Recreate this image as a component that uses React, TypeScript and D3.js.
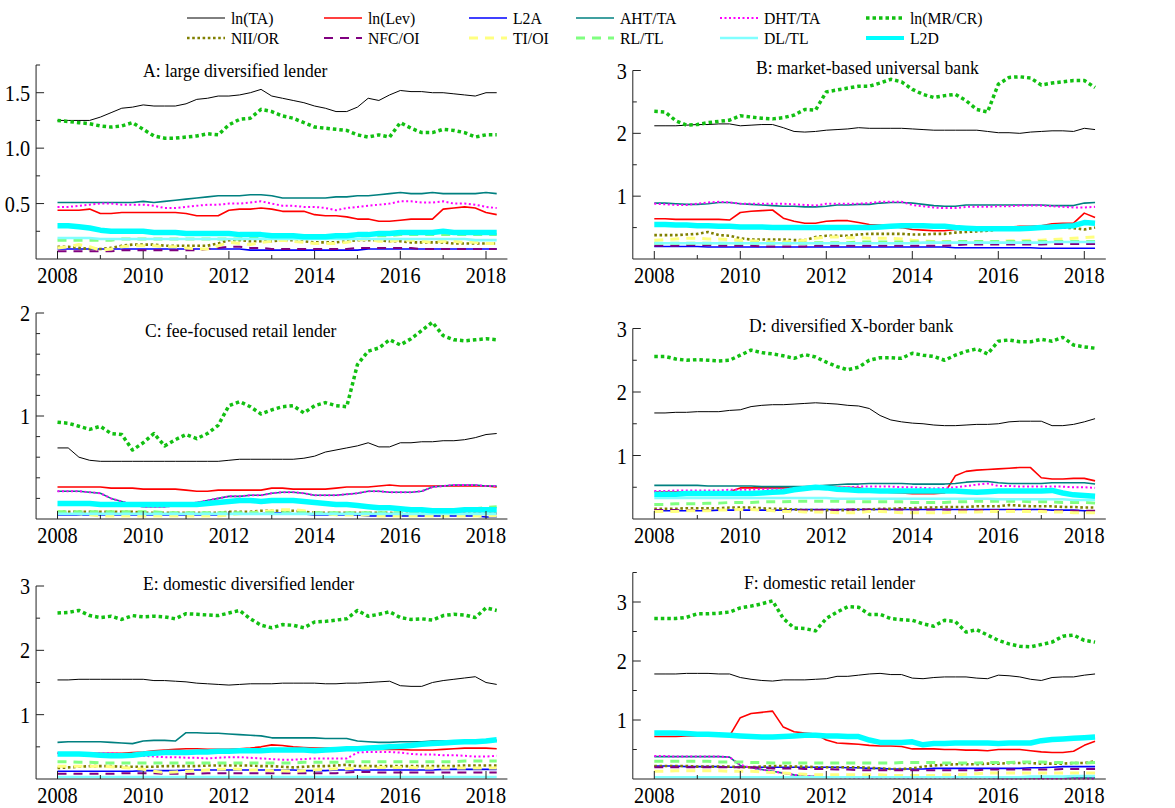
import * as d3 from 'd3';

// quarterly observations, 2008Q1 .. 2018Q2
const quarters = d3.range(42).map(i => 2008 + i * 0.25);

const seriesNames = ['ln(TA)', 'ln(Lev)', 'L2A', 'AHT/TA', 'DHT/TA', 'ln(MR/CR)', 'NII/OR', 'NFC/OI', 'TI/OI', 'RL/TL', 'DL/TL', 'L2D'];

// ---- A: large diversified lender
const A_lnTA = [1.25,1.25,1.25,1.25, 1.28,1.32,1.36,1.37, 1.39,1.38,1.38,1.38, 1.40,1.44,1.45,1.47, 1.47,1.48,1.50,1.53, 1.47,1.45,1.43,1.41, 1.38,1.36,1.33,1.33, 1.37,1.45,1.43,1.48, 1.52,1.51,1.51,1.50, 1.50,1.49,1.48,1.47, 1.50,1.50];
const A_Lev = [0.44,0.44,0.44,0.45, 0.41,0.41,0.42,0.42, 0.42,0.42,0.42,0.42, 0.41,0.39,0.39,0.39, 0.44,0.45,0.45,0.46, 0.45,0.43,0.43,0.43, 0.40,0.39,0.39,0.38, 0.36,0.36,0.34,0.34, 0.35,0.36,0.36,0.36, 0.45,0.46,0.47,0.46, 0.42,0.40];
const A_L2A = [0.09,0.09,0.09,0.09, 0.09,0.09,0.09,0.09, 0.09,0.09,0.09,0.09, 0.09,0.09,0.09,0.09, 0.09,0.09,0.08,0.08, 0.08,0.08,0.08,0.08, 0.08,0.08,0.08,0.08, 0.08,0.09,0.09,0.09, 0.09,0.09,0.09,0.09, 0.09,0.09,0.09,0.09, 0.09,0.09];
const A_AHT = [0.51,0.51,0.51,0.51, 0.51,0.51,0.51,0.51, 0.52,0.51,0.52,0.53, 0.54,0.55,0.56,0.57, 0.57,0.57,0.58,0.58, 0.57,0.55,0.55,0.55, 0.55,0.55,0.56,0.56, 0.57,0.57,0.58,0.59, 0.60,0.59,0.59,0.60, 0.59,0.59,0.59,0.59, 0.60,0.59];
const A_DHT = [0.47,0.47,0.48,0.49, 0.50,0.50,0.49,0.49, 0.49,0.48,0.46,0.46, 0.47,0.48,0.49,0.49, 0.50,0.50,0.51,0.52, 0.50,0.48,0.48,0.47, 0.47,0.46,0.44,0.46, 0.47,0.48,0.49,0.50, 0.52,0.52,0.51,0.51, 0.52,0.50,0.50,0.49, 0.47,0.46];
const A_MR = [1.25,1.24,1.23,1.22, 1.20,1.19,1.20,1.23, 1.17,1.11,1.09,1.09, 1.10,1.11,1.13,1.12, 1.21,1.26,1.27,1.35, 1.33,1.29,1.27,1.23, 1.19,1.18,1.17,1.16, 1.12,1.10,1.12,1.10, 1.23,1.18,1.14,1.14, 1.17,1.16,1.14,1.10, 1.12,1.12];
const A_NII = [0.11,0.11,0.10,0.09, 0.09,0.10,0.12,0.13, 0.13,0.13,0.12,0.12, 0.12,0.12,0.12,0.14, 0.17,0.17,0.16,0.16, 0.16,0.17,0.17,0.16, 0.15,0.15,0.15,0.16, 0.17,0.17,0.17,0.16, 0.16,0.15,0.15,0.15, 0.15,0.14,0.14,0.14, 0.14,0.14];
const A_NFC = [0.07,0.07,0.07,0.07, 0.07,0.07,0.08,0.08, 0.08,0.08,0.08,0.08, 0.08,0.08,0.09,0.10, 0.11,0.11,0.10,0.10, 0.09,0.09,0.09,0.09, 0.09,0.09,0.09,0.09, 0.10,0.10,0.10,0.10, 0.10,0.10,0.09,0.09, 0.09,0.09,0.09,0.09, 0.09,0.09];
const A_TI = [0.10,0.11,0.13,0.11, 0.08,0.09,0.11,0.12, 0.12,0.12,0.11,0.11, 0.10,0.09,0.09,0.12, 0.15,0.14,0.13,0.15, 0.16,0.17,0.16,0.15, 0.14,0.14,0.14,0.15, 0.17,0.18,0.16,0.16, 0.17,0.17,0.16,0.15, 0.16,0.16,0.15,0.15, 0.14,0.14];
const A_RL = [0.17,0.17,0.17,0.17, 0.17,0.17,0.18,0.18, 0.18,0.18,0.18,0.18, 0.18,0.18,0.18,0.18, 0.18,0.18,0.19,0.19, 0.19,0.19,0.19,0.19, 0.19,0.20,0.20,0.20, 0.21,0.21,0.21,0.21, 0.22,0.22,0.22,0.22, 0.22,0.22,0.22,0.22, 0.22,0.22];
const A_DL = [0.19,0.19,0.19,0.19, 0.18,0.18,0.18,0.18, 0.18,0.18,0.18,0.18, 0.18,0.18,0.18,0.18, 0.18,0.18,0.18,0.18, 0.18,0.18,0.18,0.18, 0.18,0.18,0.18,0.18, 0.18,0.18,0.18,0.18, 0.18,0.18,0.18,0.18, 0.18,0.18,0.18,0.17, 0.17,0.17];
const A_L2D = [0.30,0.30,0.29,0.28, 0.26,0.25,0.25,0.25, 0.25,0.24,0.24,0.24, 0.23,0.23,0.23,0.23, 0.23,0.22,0.22,0.22, 0.21,0.21,0.21,0.20, 0.20,0.20,0.21,0.21, 0.22,0.22,0.23,0.23, 0.24,0.24,0.24,0.24, 0.25,0.24,0.24,0.24, 0.24,0.24];

// ---- B: market-based universal bank
const B_lnTA = [2.12,2.12,2.12,2.13, 2.14,2.14,2.15,2.15, 2.12,2.13,2.14,2.14, 2.09,2.03,2.02,2.03, 2.05,2.06,2.07,2.09, 2.08,2.08,2.08,2.08, 2.07,2.06,2.05,2.05, 2.05,2.05,2.05,2.03, 2.01,2.01,2.00,2.02, 2.03,2.04,2.04,2.03, 2.08,2.06];
const B_Lev = [0.64,0.64,0.63,0.63, 0.63,0.63,0.63,0.62, 0.74,0.76,0.77,0.78, 0.65,0.60,0.57,0.57, 0.60,0.61,0.61,0.58, 0.55,0.54,0.52,0.50, 0.47,0.46,0.45,0.45, 0.47,0.48,0.49,0.50, 0.51,0.51,0.52,0.52, 0.53,0.56,0.57,0.57, 0.73,0.66];
const B_L2A = [0.20,0.20,0.20,0.20, 0.20,0.19,0.19,0.19, 0.19,0.19,0.19,0.19, 0.19,0.19,0.19,0.19, 0.19,0.19,0.19,0.19, 0.19,0.19,0.19,0.19, 0.19,0.19,0.19,0.19, 0.18,0.18,0.18,0.18, 0.18,0.18,0.18,0.18, 0.17,0.17,0.17,0.17, 0.17,0.17];
const B_AHT = [0.89,0.89,0.88,0.87, 0.87,0.88,0.90,0.90, 0.88,0.87,0.86,0.85, 0.84,0.84,0.83,0.83, 0.84,0.86,0.86,0.87, 0.87,0.89,0.90,0.90, 0.89,0.87,0.85,0.84, 0.84,0.86,0.86,0.86, 0.86,0.86,0.86,0.86, 0.86,0.85,0.85,0.85, 0.89,0.90];
const B_DHT = [0.88,0.87,0.86,0.86, 0.88,0.90,0.91,0.90, 0.88,0.88,0.88,0.88, 0.88,0.87,0.86,0.85, 0.88,0.88,0.88,0.88, 0.89,0.91,0.91,0.91, 0.86,0.84,0.82,0.81, 0.81,0.83,0.83,0.83, 0.84,0.84,0.85,0.85, 0.85,0.84,0.83,0.82, 0.82,0.83];
const B_MR = [2.35,2.34,2.20,2.13, 2.14,2.17,2.19,2.21, 2.28,2.26,2.24,2.23, 2.25,2.29,2.38,2.37, 2.66,2.69,2.72,2.75, 2.75,2.80,2.86,2.82, 2.70,2.62,2.57,2.60, 2.62,2.52,2.38,2.34, 2.78,2.89,2.90,2.88, 2.77,2.80,2.82,2.84, 2.84,2.73];
const B_NII = [0.38,0.38,0.38,0.39, 0.40,0.43,0.38,0.37, 0.33,0.31,0.31,0.31, 0.31,0.30,0.30,0.35, 0.37,0.37,0.37,0.39, 0.40,0.40,0.40,0.40, 0.39,0.39,0.40,0.40, 0.42,0.43,0.44,0.45, 0.47,0.49,0.50,0.50, 0.50,0.50,0.50,0.49, 0.47,0.50];
const B_NFC = [0.21,0.21,0.21,0.22, 0.22,0.22,0.21,0.21, 0.21,0.21,0.20,0.20, 0.20,0.20,0.20,0.21, 0.21,0.21,0.21,0.21, 0.21,0.21,0.21,0.21, 0.21,0.21,0.21,0.21, 0.22,0.23,0.23,0.23, 0.23,0.23,0.23,0.23, 0.23,0.24,0.24,0.24, 0.24,0.24];
const B_TI = [0.30,0.31,0.32,0.33, 0.33,0.32,0.32,0.31, 0.30,0.29,0.28,0.27, 0.27,0.28,0.30,0.33, 0.35,0.35,0.34,0.34, 0.33,0.33,0.33,0.32, 0.30,0.29,0.28,0.28, 0.27,0.27,0.27,0.27, 0.28,0.29,0.29,0.30, 0.30,0.31,0.32,0.33, 0.34,0.35];
const B_RL = [0.25,0.25,0.25,0.25, 0.25,0.25,0.25,0.25, 0.25,0.25,0.25,0.25, 0.25,0.25,0.25,0.26, 0.26,0.26,0.26,0.27, 0.27,0.27,0.27,0.27, 0.27,0.27,0.27,0.27, 0.28,0.28,0.28,0.28, 0.28,0.28,0.28,0.28, 0.28,0.28,0.28,0.28, 0.28,0.28];
const B_DL = [0.25,0.25,0.25,0.25, 0.25,0.25,0.25,0.25, 0.25,0.25,0.25,0.25, 0.25,0.25,0.25,0.25, 0.25,0.25,0.25,0.25, 0.25,0.25,0.25,0.25, 0.25,0.26,0.26,0.26, 0.26,0.26,0.26,0.26, 0.26,0.26,0.26,0.26, 0.26,0.27,0.27,0.27, 0.27,0.27];
const B_L2D = [0.55,0.55,0.54,0.54, 0.53,0.53,0.52,0.52, 0.51,0.51,0.51,0.50, 0.50,0.50,0.50,0.50, 0.50,0.50,0.50,0.50, 0.50,0.51,0.52,0.53, 0.53,0.53,0.52,0.52, 0.50,0.49,0.48,0.48, 0.48,0.48,0.48,0.49, 0.50,0.51,0.52,0.53, 0.58,0.57];

// ---- C: fee-focused retail lender
const C_lnTA = [0.69,0.69,0.60,0.57, 0.56,0.56,0.56,0.56, 0.56,0.56,0.56,0.56, 0.56,0.56,0.56,0.56, 0.57,0.58,0.58,0.58, 0.58,0.58,0.58,0.59, 0.61,0.65,0.67,0.69, 0.71,0.74,0.70,0.70, 0.74,0.74,0.75,0.75, 0.76,0.76,0.77,0.79, 0.82,0.83];
const C_Lev = [0.31,0.31,0.31,0.31, 0.31,0.30,0.30,0.30, 0.29,0.29,0.29,0.29, 0.28,0.27,0.27,0.28, 0.28,0.28,0.28,0.28, 0.30,0.30,0.29,0.29, 0.29,0.29,0.30,0.31, 0.31,0.31,0.32,0.33, 0.32,0.32,0.32,0.32, 0.32,0.32,0.32,0.32, 0.32,0.31];
const C_L2A = [0.04,0.04,0.04,0.04, 0.04,0.04,0.04,0.04, 0.04,0.04,0.04,0.04, 0.04,0.04,0.04,0.04, 0.05,0.05,0.05,0.05, 0.06,0.06,0.05,0.05, 0.04,0.04,0.04,0.04, 0.04,0.03,0.03,0.03, 0.03,0.03,0.03,0.03, 0.03,0.03,0.03,0.03, 0.02,0.02];
const C_AHT = [0.27,0.27,0.27,0.26, 0.25,0.20,0.17,0.14, 0.12,0.12,0.12,0.13, 0.14,0.16,0.18,0.20, 0.22,0.22,0.23,0.23, 0.25,0.26,0.26,0.25, 0.23,0.23,0.23,0.24, 0.25,0.27,0.27,0.26, 0.26,0.26,0.27,0.31, 0.32,0.33,0.33,0.33, 0.32,0.32];
const C_DHT = [0.27,0.27,0.27,0.26, 0.25,0.20,0.17,0.14, 0.12,0.12,0.12,0.13, 0.14,0.16,0.18,0.20, 0.22,0.22,0.23,0.23, 0.25,0.26,0.26,0.25, 0.23,0.23,0.23,0.24, 0.25,0.27,0.27,0.26, 0.26,0.26,0.27,0.31, 0.32,0.33,0.33,0.33, 0.32,0.32];
const C_MR = [0.94,0.93,0.90,0.87, 0.90,0.83,0.82,0.67, 0.74,0.83,0.71,0.77, 0.82,0.78,0.83,0.91, 1.10,1.14,1.09,1.02, 1.06,1.09,1.10,1.03, 1.10,1.13,1.10,1.09, 1.50,1.63,1.66,1.74, 1.69,1.75,1.83,1.91, 1.78,1.74,1.73,1.74, 1.75,1.74];
const C_NII = [0.07,0.07,0.07,0.07, 0.07,0.07,0.07,0.07, 0.06,0.06,0.06,0.06, 0.06,0.06,0.06,0.06, 0.07,0.07,0.07,0.08, 0.08,0.08,0.08,0.07, 0.06,0.06,0.06,0.06, 0.06,0.06,0.06,0.06, 0.05,0.05,0.05,0.05, 0.05,0.05,0.05,0.05, 0.05,0.05];
const C_NFC = [0.06,0.06,0.06,0.06, 0.06,0.06,0.06,0.06, 0.05,0.05,0.05,0.05, 0.05,0.05,0.05,0.05, 0.05,0.05,0.05,0.05, 0.05,0.05,0.05,0.05, 0.05,0.05,0.05,0.05, 0.05,0.05,0.05,0.05, 0.05,0.05,0.05,0.05, 0.05,0.05,0.05,0.05, 0.05,0.05];
const C_TI = [0.07,0.06,0.05,0.04, 0.03,0.03,0.03,0.03, 0.03,0.03,0.03,0.03, 0.03,0.03,0.03,0.03, 0.04,0.05,0.06,0.07, 0.08,0.09,0.09,0.08, 0.06,0.05,0.04,0.04, 0.04,0.04,0.03,0.03, 0.03,0.03,0.03,0.03, 0.03,0.03,0.03,0.03, 0.03,0.03];
const C_RL = [0.07,0.07,0.07,0.07, 0.07,0.07,0.07,0.07, 0.07,0.07,0.06,0.06, 0.06,0.06,0.06,0.06, 0.06,0.06,0.06,0.06, 0.06,0.06,0.06,0.06, 0.06,0.06,0.06,0.06, 0.06,0.06,0.06,0.06, 0.06,0.06,0.07,0.07, 0.07,0.08,0.09,0.10, 0.11,0.12];
const C_DL = [0.05,0.05,0.05,0.05, 0.05,0.05,0.05,0.05, 0.05,0.05,0.05,0.05, 0.05,0.05,0.05,0.05, 0.05,0.05,0.05,0.05, 0.05,0.05,0.05,0.05, 0.05,0.05,0.05,0.05, 0.05,0.05,0.05,0.05, 0.05,0.05,0.05,0.05, 0.05,0.05,0.05,0.05, 0.05,0.05];
const C_L2D = [0.15,0.15,0.15,0.15, 0.14,0.14,0.14,0.14, 0.14,0.14,0.14,0.14, 0.14,0.14,0.15,0.16, 0.17,0.18,0.18,0.17, 0.18,0.18,0.18,0.17, 0.16,0.15,0.14,0.14, 0.13,0.12,0.11,0.11, 0.10,0.09,0.09,0.08, 0.08,0.08,0.09,0.09, 0.09,0.09];

// ---- D: diversified X-border bank
const D_lnTA = [1.67,1.67,1.68,1.68, 1.69,1.69,1.69,1.71, 1.72,1.77,1.79,1.80, 1.80,1.81,1.82,1.83, 1.82,1.81,1.79,1.78, 1.74,1.63,1.56,1.53, 1.51,1.50,1.48,1.47, 1.47,1.48,1.49,1.49, 1.50,1.53,1.54,1.54, 1.54,1.47,1.47,1.49, 1.53,1.58];
const D_Lev = [0.43,0.43,0.43,0.43, 0.43,0.43,0.43,0.43, 0.49,0.49,0.49,0.49, 0.49,0.50,0.50,0.50, 0.50,0.50,0.50,0.49, 0.46,0.43,0.42,0.41, 0.40,0.40,0.40,0.41, 0.68,0.75,0.77,0.78, 0.79,0.80,0.81,0.81, 0.65,0.63,0.63,0.64, 0.64,0.60];
const D_L2A = [0.13,0.13,0.13,0.13, 0.13,0.13,0.14,0.14, 0.14,0.14,0.14,0.14, 0.14,0.15,0.15,0.15, 0.15,0.15,0.15,0.15, 0.15,0.15,0.15,0.15, 0.15,0.15,0.15,0.15, 0.15,0.15,0.15,0.15, 0.15,0.15,0.15,0.15, 0.15,0.14,0.14,0.14, 0.13,0.13];
const D_AHT = [0.53,0.53,0.53,0.53, 0.53,0.52,0.52,0.52, 0.52,0.52,0.51,0.51, 0.51,0.51,0.51,0.52, 0.53,0.54,0.55,0.55, 0.56,0.56,0.56,0.56, 0.55,0.55,0.55,0.55, 0.56,0.58,0.59,0.59, 0.57,0.56,0.56,0.56, 0.56,0.57,0.57,0.57, 0.57,0.55];
const D_DHT = [0.44,0.44,0.45,0.45, 0.45,0.45,0.45,0.46, 0.46,0.46,0.47,0.47, 0.47,0.48,0.48,0.49, 0.49,0.50,0.50,0.51, 0.51,0.51,0.51,0.50, 0.50,0.49,0.48,0.49, 0.50,0.52,0.54,0.56, 0.52,0.52,0.51,0.51, 0.51,0.51,0.51,0.50, 0.50,0.49];
const D_MR = [2.56,2.56,2.52,2.50, 2.51,2.50,2.49,2.50, 2.58,2.66,2.62,2.60, 2.57,2.53,2.59,2.55, 2.47,2.40,2.35,2.39, 2.50,2.54,2.54,2.53, 2.61,2.58,2.56,2.50, 2.58,2.64,2.68,2.60, 2.80,2.82,2.79,2.79, 2.83,2.80,2.86,2.74, 2.71,2.69];
const D_NII = [0.16,0.16,0.16,0.17, 0.17,0.17,0.17,0.18, 0.18,0.18,0.17,0.16, 0.16,0.15,0.14,0.14, 0.14,0.14,0.14,0.15, 0.15,0.16,0.16,0.17, 0.17,0.18,0.18,0.19, 0.19,0.19,0.20,0.20, 0.20,0.22,0.21,0.20, 0.20,0.20,0.19,0.19, 0.18,0.18];
const D_NFC = [0.14,0.14,0.14,0.14, 0.14,0.14,0.14,0.14, 0.14,0.14,0.14,0.13, 0.13,0.13,0.14,0.14, 0.14,0.14,0.15,0.15, 0.15,0.15,0.15,0.15, 0.15,0.15,0.15,0.15, 0.14,0.14,0.14,0.14, 0.14,0.14,0.14,0.14, 0.14,0.13,0.13,0.13, 0.13,0.13];
const D_TI = [0.12,0.12,0.12,0.13, 0.13,0.13,0.14,0.14, 0.15,0.15,0.14,0.13, 0.12,0.12,0.11,0.11, 0.11,0.10,0.10,0.10, 0.12,0.12,0.11,0.10, 0.10,0.10,0.10,0.10, 0.11,0.11,0.11,0.12, 0.12,0.12,0.12,0.12, 0.12,0.11,0.11,0.10, 0.10,0.10];
const D_RL = [0.23,0.23,0.24,0.24, 0.24,0.25,0.25,0.26, 0.26,0.26,0.27,0.27, 0.27,0.28,0.28,0.28, 0.28,0.28,0.27,0.27, 0.27,0.27,0.27,0.27, 0.26,0.26,0.26,0.26, 0.27,0.27,0.28,0.28, 0.28,0.28,0.28,0.27, 0.27,0.27,0.26,0.26, 0.26,0.25];
const D_DL = [0.33,0.33,0.33,0.33, 0.33,0.33,0.33,0.33, 0.33,0.33,0.33,0.33, 0.33,0.33,0.33,0.33, 0.33,0.32,0.32,0.32, 0.32,0.32,0.32,0.32, 0.32,0.32,0.32,0.32, 0.32,0.32,0.32,0.32, 0.31,0.31,0.31,0.31, 0.31,0.31,0.31,0.30, 0.30,0.30];
const D_L2D = [0.39,0.39,0.39,0.40, 0.40,0.40,0.40,0.40, 0.40,0.40,0.41,0.42, 0.43,0.46,0.48,0.50, 0.49,0.47,0.46,0.45, 0.45,0.44,0.44,0.44, 0.44,0.44,0.44,0.44, 0.44,0.43,0.42,0.43, 0.44,0.44,0.44,0.44, 0.44,0.45,0.41,0.38, 0.37,0.36];

// ---- E: domestic diversified lender
const E_lnTA = [1.54,1.54,1.55,1.55, 1.55,1.55,1.55,1.55, 1.55,1.53,1.53,1.52, 1.51,1.49,1.48,1.47, 1.46,1.47,1.48,1.48, 1.48,1.49,1.49,1.49, 1.49,1.48,1.48,1.49, 1.49,1.50,1.51,1.52, 1.45,1.44,1.44,1.50, 1.53,1.55,1.57,1.59, 1.50,1.47];
const E_Lev = [0.40,0.40,0.40,0.40, 0.40,0.40,0.40,0.41, 0.42,0.44,0.45,0.46, 0.47,0.47,0.46,0.46, 0.46,0.47,0.48,0.50, 0.53,0.52,0.50,0.49, 0.48,0.48,0.48,0.47, 0.46,0.46,0.46,0.46, 0.46,0.45,0.45,0.45, 0.46,0.47,0.48,0.48, 0.48,0.47];
const E_L2A = [0.12,0.12,0.12,0.12, 0.12,0.12,0.12,0.12, 0.13,0.13,0.13,0.13, 0.14,0.14,0.14,0.14, 0.14,0.14,0.14,0.14, 0.14,0.14,0.14,0.13, 0.13,0.13,0.14,0.14, 0.14,0.14,0.14,0.14, 0.14,0.14,0.14,0.14, 0.15,0.15,0.15,0.15, 0.15,0.15];
const E_AHT = [0.57,0.58,0.58,0.58, 0.58,0.57,0.56,0.55, 0.59,0.60,0.60,0.59, 0.72,0.72,0.71,0.71, 0.70,0.69,0.68,0.67, 0.64,0.64,0.64,0.64, 0.64,0.63,0.63,0.63, 0.59,0.58,0.57,0.57, 0.58,0.58,0.58,0.59, 0.59,0.58,0.58,0.59, 0.60,0.60];
const E_DHT = [0.40,0.40,0.40,0.40, 0.40,0.40,0.39,0.38, 0.36,0.35,0.34,0.34, 0.33,0.33,0.32,0.33, 0.34,0.34,0.33,0.32, 0.31,0.30,0.30,0.31, 0.32,0.32,0.32,0.32, 0.41,0.42,0.42,0.42, 0.41,0.39,0.38,0.38, 0.37,0.37,0.36,0.35, 0.35,0.36];
const E_MR = [2.58,2.59,2.62,2.54, 2.51,2.53,2.48,2.54, 2.52,2.53,2.52,2.49, 2.57,2.56,2.55,2.54, 2.58,2.62,2.49,2.39, 2.35,2.40,2.39,2.35, 2.44,2.45,2.47,2.49, 2.62,2.53,2.56,2.60, 2.51,2.48,2.49,2.47, 2.54,2.56,2.55,2.51, 2.66,2.62];
const E_NII = [0.17,0.18,0.19,0.20, 0.20,0.20,0.19,0.19, 0.19,0.19,0.20,0.20, 0.20,0.20,0.21,0.21, 0.21,0.21,0.21,0.20, 0.20,0.19,0.18,0.19, 0.20,0.20,0.21,0.22, 0.20,0.20,0.20,0.20, 0.20,0.20,0.20,0.20, 0.20,0.20,0.21,0.21, 0.21,0.21];
const E_NFC = [0.08,0.08,0.08,0.08, 0.08,0.08,0.09,0.09, 0.09,0.09,0.08,0.08, 0.08,0.08,0.09,0.09, 0.09,0.09,0.09,0.09, 0.09,0.09,0.09,0.09, 0.09,0.09,0.09,0.10, 0.11,0.11,0.10,0.10, 0.10,0.10,0.10,0.10, 0.10,0.10,0.10,0.10, 0.10,0.10];
const E_TI = [0.20,0.20,0.20,0.20, 0.20,0.19,0.18,0.17, 0.15,0.12,0.10,0.11, 0.12,0.13,0.14,0.15, 0.16,0.15,0.14,0.14, 0.13,0.13,0.12,0.13, 0.14,0.15,0.16,0.16, 0.17,0.17,0.18,0.18, 0.18,0.18,0.17,0.17, 0.17,0.17,0.17,0.17, 0.17,0.17];
const E_RL = [0.27,0.27,0.26,0.26, 0.25,0.25,0.25,0.25, 0.25,0.25,0.25,0.25, 0.25,0.25,0.25,0.25, 0.25,0.25,0.25,0.25, 0.25,0.25,0.25,0.26, 0.26,0.26,0.26,0.27, 0.27,0.27,0.27,0.27, 0.27,0.27,0.27,0.27, 0.27,0.27,0.28,0.28, 0.28,0.28];
const E_DL = [0.03,0.03,0.03,0.03, 0.03,0.03,0.03,0.03, 0.03,0.03,0.03,0.03, 0.03,0.03,0.03,0.03, 0.03,0.03,0.03,0.03, 0.03,0.03,0.03,0.03, 0.03,0.03,0.03,0.03, 0.03,0.03,0.03,0.03, 0.03,0.03,0.03,0.03, 0.03,0.03,0.03,0.03, 0.03,0.03];
const E_L2D = [0.39,0.39,0.39,0.38, 0.37,0.36,0.36,0.37, 0.39,0.40,0.41,0.41, 0.41,0.42,0.42,0.43, 0.43,0.44,0.44,0.44, 0.45,0.45,0.45,0.45, 0.44,0.45,0.46,0.47, 0.47,0.48,0.49,0.50, 0.51,0.52,0.54,0.55, 0.56,0.57,0.58,0.58, 0.59,0.61];

// ---- F: domestic retail lender
const F_lnTA = [1.78,1.78,1.78,1.79, 1.79,1.79,1.78,1.78, 1.72,1.69,1.67,1.66, 1.68,1.68,1.68,1.69, 1.70,1.74,1.74,1.76, 1.78,1.79,1.77,1.77, 1.71,1.70,1.72,1.73, 1.73,1.73,1.71,1.70, 1.76,1.75,1.73,1.69, 1.67,1.72,1.73,1.73, 1.76,1.78];
const F_Lev = [0.72,0.72,0.72,0.73, 0.73,0.73,0.73,0.73, 1.04,1.11,1.13,1.15, 0.88,0.80,0.78,0.76, 0.66,0.61,0.60,0.59, 0.57,0.56,0.56,0.55, 0.51,0.51,0.51,0.50, 0.50,0.49,0.49,0.48, 0.50,0.50,0.50,0.48, 0.46,0.45,0.45,0.47, 0.57,0.64];
const F_L2A = [0.22,0.22,0.22,0.21, 0.21,0.21,0.21,0.20, 0.20,0.20,0.20,0.20, 0.20,0.20,0.20,0.20, 0.20,0.20,0.19,0.19, 0.18,0.18,0.17,0.17, 0.17,0.17,0.18,0.18, 0.18,0.18,0.18,0.18, 0.18,0.18,0.18,0.19, 0.19,0.20,0.21,0.21, 0.21,0.21];
const F_AHT = [0.38,0.38,0.38,0.38, 0.38,0.38,0.38,0.37, 0.23,0.19,0.16,0.13, 0.10,0.07,0.05,0.04, 0.03,0.03,0.03,0.03, 0.03,0.03,0.03,0.03, 0.03,0.03,0.03,0.03, 0.03,0.03,0.03,0.03, 0.02,0.02,0.02,0.02, 0.02,0.02,0.02,0.02, 0.02,0.02];
const F_DHT = [0.39,0.39,0.38,0.38, 0.38,0.38,0.38,0.37, 0.24,0.19,0.16,0.13, 0.10,0.07,0.05,0.04, 0.03,0.03,0.02,0.02, 0.02,0.02,0.02,0.02, 0.02,0.02,0.02,0.02, 0.02,0.02,0.02,0.02, 0.01,0.01,0.01,0.01, 0.01,0.01,0.01,0.01, 0.01,0.01];
const F_MR = [2.72,2.72,2.72,2.74, 2.80,2.80,2.81,2.83, 2.90,2.93,2.97,3.02, 2.72,2.56,2.55,2.51, 2.72,2.83,2.92,2.91, 2.79,2.79,2.72,2.70, 2.69,2.63,2.59,2.69, 2.67,2.49,2.53,2.44, 2.35,2.29,2.25,2.24, 2.28,2.32,2.42,2.44, 2.35,2.32];
const F_NII = [0.22,0.22,0.22,0.22, 0.21,0.21,0.21,0.21, 0.20,0.20,0.21,0.22, 0.22,0.21,0.21,0.20, 0.20,0.20,0.20,0.20, 0.19,0.18,0.17,0.17, 0.18,0.21,0.23,0.24, 0.25,0.25,0.25,0.26, 0.26,0.27,0.27,0.27, 0.26,0.26,0.26,0.27, 0.27,0.30];
const F_NFC = [0.20,0.20,0.20,0.20, 0.20,0.20,0.20,0.20, 0.20,0.20,0.19,0.18, 0.18,0.18,0.17,0.17, 0.17,0.16,0.16,0.15, 0.15,0.15,0.15,0.15, 0.15,0.15,0.15,0.15, 0.15,0.15,0.15,0.16, 0.16,0.16,0.16,0.16, 0.16,0.16,0.17,0.17, 0.17,0.17];
const F_TI = [0.13,0.13,0.14,0.14, 0.14,0.14,0.14,0.13, 0.13,0.13,0.12,0.11, 0.10,0.09,0.08,0.07, 0.07,0.07,0.07,0.07, 0.07,0.07,0.06,0.06, 0.06,0.06,0.06,0.07, 0.07,0.08,0.09,0.10, 0.10,0.10,0.10,0.10, 0.10,0.10,0.10,0.10, 0.10,0.10];
const F_RL = [0.30,0.30,0.30,0.30, 0.30,0.30,0.29,0.29, 0.29,0.28,0.28,0.27, 0.27,0.27,0.27,0.27, 0.27,0.27,0.27,0.27, 0.27,0.27,0.27,0.28, 0.28,0.28,0.28,0.27, 0.27,0.27,0.27,0.28, 0.28,0.28,0.29,0.29, 0.29,0.28,0.28,0.27, 0.27,0.28];
const F_DL = [0.03,0.03,0.03,0.03, 0.03,0.03,0.03,0.03, 0.03,0.03,0.03,0.03, 0.03,0.03,0.03,0.03, 0.03,0.03,0.03,0.03, 0.03,0.03,0.03,0.03, 0.03,0.03,0.03,0.03, 0.03,0.03,0.03,0.03, 0.03,0.03,0.03,0.04, 0.04,0.04,0.04,0.05, 0.05,0.05];
const F_L2D = [0.78,0.78,0.78,0.77, 0.76,0.76,0.75,0.74, 0.73,0.72,0.71,0.71, 0.72,0.73,0.74,0.74, 0.73,0.73,0.72,0.72, 0.66,0.62,0.62,0.62, 0.63,0.58,0.60,0.60, 0.61,0.61,0.61,0.61, 0.60,0.61,0.61,0.61, 0.65,0.67,0.68,0.69, 0.70,0.71];

const panelTitles = ['A: large diversified lender', 'B: market-based universal bank', 'C: fee-focused retail lender', 'D: diversified X-border bank', 'E: domestic diversified lender', 'F: domestic retail lender'];

const panelSeries = [
  [A_lnTA, A_Lev, A_L2A, A_AHT, A_DHT, A_MR, A_NII, A_NFC, A_TI, A_RL, A_DL, A_L2D],
  [B_lnTA, B_Lev, B_L2A, B_AHT, B_DHT, B_MR, B_NII, B_NFC, B_TI, B_RL, B_DL, B_L2D],
  [C_lnTA, C_Lev, C_L2A, C_AHT, C_DHT, C_MR, C_NII, C_NFC, C_TI, C_RL, C_DL, C_L2D],
  [D_lnTA, D_Lev, D_L2A, D_AHT, D_DHT, D_MR, D_NII, D_NFC, D_TI, D_RL, D_DL, D_L2D],
  [E_lnTA, E_Lev, E_L2A, E_AHT, E_DHT, E_MR, E_NII, E_NFC, E_TI, E_RL, E_DL, E_L2D],
  [F_lnTA, F_Lev, F_L2A, F_AHT, F_DHT, F_MR, F_NII, F_NFC, F_TI, F_RL, F_DL, F_L2D],
];

const yearTicks = [2008, 2010, 2012, 2014, 2016, 2018];

// line styles, same order as seriesNames
const styles = [
  { color: '#000000', width: 1, dash: '' },
  { color: '#ff0000', width: 1.6, dash: '' },
  { color: '#0000ff', width: 1.6, dash: '' },
  { color: '#008080', width: 1.6, dash: '' },
  { color: '#ff00ff', width: 2, dash: '2,2.5' },
  { color: '#12c012', width: 3.5, dash: '3.5,3' },
  { color: '#808000', width: 2.6, dash: '2.6,2.6' },
  { color: '#800080', width: 2, dash: '9,7' },
  { color: '#ffff80', width: 3, dash: '9,7' },
  { color: '#80ff80', width: 3, dash: '9,7' },
  { color: '#80ffff', width: 2.6, dash: '' },
  { color: '#00ffff', width: 5.5, dash: '' },
];

// panel geometry
const panelLayout = [
  { x08: 57.5, x18: 486, y0: 259, yTop: 1.75, yTopPx: 65, major: [0.5, 1.0, 1.5], minor: [0.25, 0.75, 1.25, 1.75], fmt: '.1f', tx: 143, ty: 77 },
  { x08: 654.3, x18: 1084.3, y0: 259, yTop: 3, yTopPx: 70.5, major: [1, 2, 3], minor: [0.5, 1.5, 2.5], fmt: 'd', tx: 756, ty: 74 },
  { x08: 57.5, x18: 486, y0: 519, yTop: 2, yTopPx: 313, major: [1, 2], minor: [0.2, 0.4, 0.6, 0.8, 1.2, 1.4, 1.6, 1.8], fmt: 'd', tx: 145, ty: 337 },
  { x08: 654.3, x18: 1084.3, y0: 519, yTop: 3, yTopPx: 328.5, major: [1, 2, 3], minor: [0.5, 1.5, 2.5], fmt: 'd', tx: 749, ty: 332 },
  { x08: 57.5, x18: 486, y0: 779, yTop: 3, yTopPx: 586, major: [1, 2, 3], minor: [0.5, 1.5, 2.5], fmt: 'd', tx: 143, ty: 590 },
  { x08: 654.3, x18: 1084.3, y0: 779, yTop: 3.5, yTopPx: 572.5, major: [1, 2, 3], minor: [0.5, 1.5, 2.5, 3.5], fmt: 'd', tx: 744, ty: 589 },
];

const FONT = '"Liberation Serif", "Times New Roman", serif';
const SX = 0.9;

function SText({ x, y, size, anchor = 'start', children }: any) {
  return (
    <text transform={`translate(${x},${y}) scale(${SX},1)`} fontSize={size} textAnchor={anchor} fontFamily={FONT} fill="#000">
      {children}
    </text>
  );
}

function Panel({ idx }: { idx: number }) {
  const L = panelLayout[idx];
  const x = d3.scaleLinear().domain([2008, 2018]).range([L.x08, L.x18]);
  const y = d3.scaleLinear().domain([0, L.yTop]).range([L.y0, L.yTopPx]);
  const line = d3.line<number>().x((_, i) => x(quarters[i])).y(v => y(v));
  const ax = x(2007.5);
  const axEnd = x(2018.5);
  const fmt = d3.format(L.fmt);
  const oddYears = [2009, 2011, 2013, 2015, 2017];
  return (
    <g>
      {panelSeries[idx].map((s, k) => (
        <path key={k} d={line(s) || ''} fill="none" stroke={styles[k].color} strokeWidth={styles[k].width}
          strokeDasharray={styles[k].dash || undefined} strokeLinejoin="round" />
      ))}
      <g stroke="#222" strokeWidth={1} fill="none">
        <line x1={ax} x2={ax} y1={L.y0} y2={y(L.yTop)} />
        <line x1={ax} x2={axEnd} y1={L.y0} y2={L.y0} />
        {L.major.map(v => <line key={'M' + v} x1={ax} x2={ax + 8} y1={y(v)} y2={y(v)} />)}
        {L.minor.map(v => <line key={'m' + v} x1={ax} x2={ax + 4} y1={y(v)} y2={y(v)} />)}
        {yearTicks.map(t => <line key={'X' + t} x1={x(t)} x2={x(t)} y1={L.y0} y2={L.y0 - 8} />)}
        {oddYears.map(t => <line key={'x' + t} x1={x(t)} x2={x(t)} y1={L.y0} y2={L.y0 - 4} />)}
      </g>
      {L.major.map(v => (
        <SText key={'l' + v} x={ax - 6} y={y(v) + 8} size={22.5} anchor="end">{fmt(v)}</SText>
      ))}
      {yearTicks.map(t => (
        <SText key={'t' + t} x={x(t)} y={L.y0 + 23.5} size={22.5} anchor="middle">{t}</SText>
      ))}
      <SText x={L.tx} y={L.ty} size={19.5}>{panelTitles[idx]}</SText>
    </g>
  );
}

const legendTextX = [231, 368, 513, 620, 764, 910];

function Legend() {
  return (
    <g>
      {seriesNames.map((name, k) => {
        const col = k % 6;
        const row = Math.floor(k / 6);
        const cy = 18 + row * 20;
        const tx = legendTextX[col];
        const st = styles[k];
        return (
          <g key={name}>
            <line x1={tx - 44} x2={tx - 6} y1={cy} y2={cy} stroke={st.color}
              strokeWidth={Math.min(st.width, 4)} strokeDasharray={st.dash || undefined} />
            <SText x={tx} y={cy + 5.5} size={17.5}>{name}</SText>
          </g>
        );
      })}
    </g>
  );
}

export default function App() {
  return (
    <div style={{ position: 'absolute', left: 0, top: 0, background: '#fff' }}>
      <svg width={1175} height={808} style={{ display: 'block' }}>
        <rect width={1175} height={808} fill="#fff" />
        <Legend />
        {panelTitles.map((_, i) => <Panel key={i} idx={i} />)}
      </svg>
    </div>
  );
}
